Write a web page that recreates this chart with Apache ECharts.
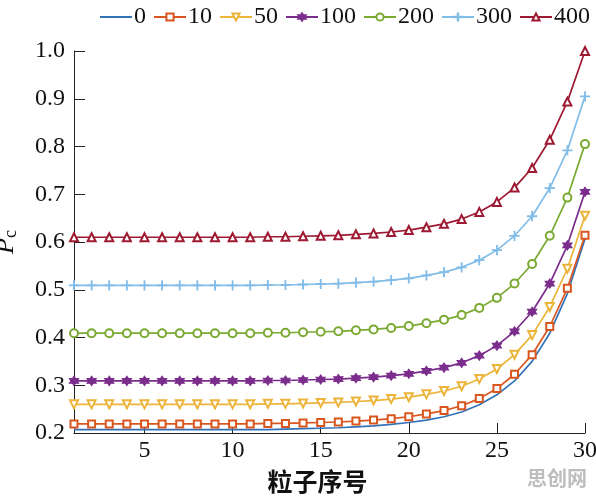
<!DOCTYPE html>
<html><head><meta charset="utf-8">
<script src="https://cdn.jsdelivr.net/npm/echarts@6/dist/echarts.min.js"></script>
<style>html,body{margin:0;padding:0;background:#fff}#c{width:596px;height:498px}</style>
</head><body><div id="c"></div>
<script>
const xValues = [1,2,3,4,5,6,7,8,9,10,11,12,13,14,15,16,17,18,19,20,21,22,23,24,25,26,27,28,29,30];
const xTicks = [5,10,15,20,25,30];
const seriesNames = ['0','10','50','100','200','300','400'];
const s0 = [0.207,0.207,0.207,0.207,0.207,0.207,0.207,0.207,0.207,0.207,0.207,0.207,0.208,0.209,0.210,0.211,0.213,0.215,0.218,0.222,0.227,0.234,0.244,0.259,0.280,0.309,0.350,0.409,0.492,0.607];
const s10 = [0.219,0.219,0.219,0.219,0.219,0.219,0.219,0.219,0.219,0.219,0.219,0.220,0.220,0.221,0.222,0.223,0.225,0.227,0.230,0.234,0.240,0.247,0.257,0.272,0.293,0.323,0.364,0.423,0.503,0.614];
const s50 = [0.260,0.260,0.260,0.260,0.260,0.260,0.260,0.260,0.260,0.260,0.260,0.261,0.261,0.262,0.263,0.264,0.266,0.268,0.271,0.275,0.281,0.288,0.298,0.313,0.334,0.364,0.405,0.464,0.544,0.655];
const s100 = [0.309,0.309,0.309,0.309,0.309,0.309,0.309,0.309,0.309,0.309,0.309,0.310,0.310,0.311,0.312,0.313,0.315,0.317,0.320,0.324,0.330,0.337,0.347,0.362,0.383,0.413,0.454,0.513,0.593,0.705];
const s200 = [0.409,0.409,0.409,0.409,0.409,0.409,0.409,0.409,0.409,0.409,0.409,0.410,0.410,0.411,0.412,0.413,0.415,0.417,0.420,0.424,0.430,0.437,0.447,0.462,0.483,0.513,0.554,0.613,0.693,0.805];
const s300 = [0.509,0.509,0.509,0.509,0.509,0.509,0.509,0.509,0.509,0.509,0.509,0.510,0.510,0.511,0.512,0.513,0.515,0.517,0.520,0.524,0.530,0.537,0.547,0.562,0.583,0.613,0.654,0.713,0.792,0.905];
const s400 = [0.610,0.610,0.610,0.610,0.610,0.610,0.610,0.610,0.610,0.610,0.610,0.611,0.611,0.612,0.613,0.614,0.616,0.618,0.621,0.625,0.631,0.638,0.648,0.663,0.684,0.714,0.755,0.814,0.894,1.000];

const colors = ['#3272b8','#d9561f','#ecb43a','#7b2d8c','#7aaa32','#82bde8','#9e1a33'];
const starPath = 'path://M0,-100L29,-50L87,-50L58,0L87,50L29,50L0,100L-29,50L-87,50L-58,0L-87,-50L-29,-50Z';
const plusPath = 'path://M-7,-100H7V-7H100V7H7V100H-7V7H-100V-7H-7Z';
const symbols = [
  {symbol:'none'},
  {symbol:'emptyRect', symbolSize:7},
  {symbol:'emptyTriangle', symbolSize:8, symbolRotate:180},
  {symbol:starPath, symbolSize:9},
  {symbol:'emptyCircle', symbolSize:8},
  {symbol:plusPath, symbolSize:9},
  {symbol:'emptyTriangle', symbolSize:8}
];
const allData = [s0,s10,s50,s100,s200,s300,s400];
const serif = '"Liberation Serif","Times New Roman",serif';

const series = allData.map((arr,i)=>Object.assign({
  name: seriesNames[i],
  type:'line',
  data: arr.map((v,j)=>[xValues[j], v]),
  showSymbol: i>0,
  lineStyle:{width:1.7, color:colors[i]},
  itemStyle:{color:colors[i], borderColor:colors[i], borderWidth:1.2},
  z: 2+i,
  animation:false
}, symbols[i]));

const legendData = seriesNames.map((n,i)=> i===0
  ? {name:n, itemStyle:{opacity:0}}
  : {name:n});

const chart = echarts.init(document.getElementById('c'));
chart.setOption({
  animation:false,
  color: colors,
  grid:{left:74, right:11, top:51, bottom:65, containLabel:false, outerBoundsMode:'none'},
  legend:{
    top:0, left:94, width:560, itemWidth:32, itemHeight:9, itemGap:7,
    textStyle:{fontFamily:serif, fontSize:24, color:'#111', padding:[0,0,0,-3]},
    data: legendData
  },
  xAxis:{
    type:'value', min:1, max:30,
    name:'粒子序号', nameLocation:'middle', nameGap:36,
    nameTextStyle:{fontFamily:'"Noto Sans CJK SC"', fontSize:25, color:'#111', fontWeight:'bold', padding:[0,24,0,0]},
    axisLine:{lineStyle:{color:'#222', width:1}},
    axisTick:{inside:true, length:10, lineStyle:{color:'#222'}, customValues:xTicks},
    axisLabel:{fontFamily:serif, fontSize:24, color:'#111', margin:6, customValues:xTicks},
    splitLine:{show:false}
  },
  yAxis:{
    type:'value', min:0.2, max:1.0, interval:0.1,
    name:'{p|P}{c|c}', nameLocation:'middle', nameGap:54, nameRotate:90,
    nameTextStyle:{
      padding:[0,0,0,0],
      rich:{
        p:{fontFamily:serif, fontStyle:'italic', fontSize:26, color:'#111', lineHeight:28},
        c:{fontFamily:serif, fontSize:18, color:'#111', lineHeight:28, verticalAlign:'bottom', padding:[12,0,0,0]}
      }
    },
    axisLine:{show:true, lineStyle:{color:'#222', width:1}},
    axisTick:{show:true, inside:true, length:11, lineStyle:{color:'#222'}},
    axisLabel:{fontFamily:serif, fontSize:24, color:'#111', margin:9, formatter:v=>v.toFixed(1)},
    splitLine:{show:false}
  },
  graphic:[{type:'text', left:527, top:468, style:{text:'思创网', fontFamily:'"Noto Sans CJK SC"', fontSize:20, fontWeight:'bold', fill:'#bdbdbd'}}],
  series: series
});
</script></body></html>
